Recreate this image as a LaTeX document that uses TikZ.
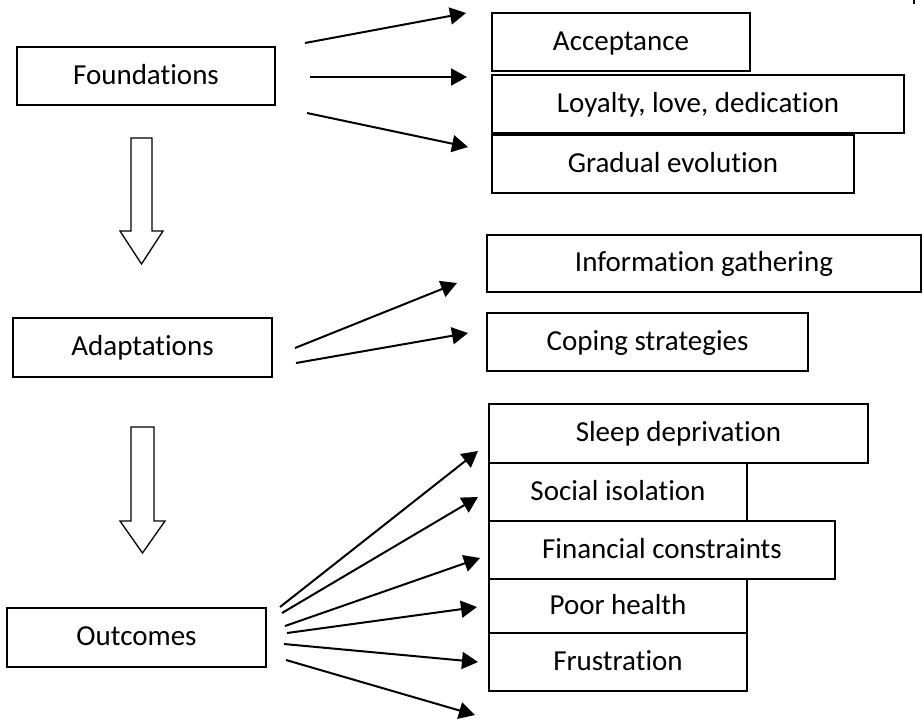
\documentclass[tikz,border=0pt]{standalone}
\usepackage{fontspec}
\setmainfont{Carlito}[Ligatures=NoCommon]
\usetikzlibrary{arrows.meta}
\tikzset{
  box/.style={draw=black, line width=0.8pt, inner sep=0pt, fill=none,
    font=\fontsize{14.5}{17}\selectfont, text height=0.8em, text depth=0pt},
  arr/.style={line width=1pt, -{Triangle[length=8pt,width=8.5pt]}},
  hollow/.style={draw=black, line width=0.65pt, fill=white, line join=miter}
}
\begin{document}
\begin{tikzpicture}[x=0.5pt, y=-0.5pt]
\useasboundingbox (0,0) rectangle (923,720);

% left column
\node[box, minimum width=129pt, minimum height=29pt] (found) at (146,76) {Foundations};
\node[box, minimum width=129.5pt, minimum height=29.5pt] (adapt) at (142.5,347.5) {Adaptations};
\node[box, minimum width=129.5pt, minimum height=29.5pt] (outc) at (136.5,637.5) {Outcomes};

% foundations targets
\node[box, minimum width=129pt, minimum height=29pt] (accept) at (621,42) {Acceptance};
\node[box, minimum width=206pt, minimum height=29pt] (loyal) at (698,104) {Loyalty, love, dedication};
\node[box, minimum width=181pt, minimum height=29pt] (grad) at (673,164) {Gradual evolution};

% adaptations targets
\node[box, minimum width=217pt, minimum height=28.5pt] (info) at (704,263.5) {Information gathering};
\node[box, minimum width=160.5pt, minimum height=29pt] (coping) at (647.5,342) {Coping strategies};

% outcomes targets
\node[box, minimum width=189.5pt, minimum height=29.5pt] (sleep) at (678.5,433.5) {Sleep deprivation};
\node[box, minimum width=129pt, minimum height=29pt] (social) at (618,492) {Social isolation};
\node[box, minimum width=173pt, minimum height=29pt] (fin) at (662,550) {Financial constraints};
\node[box, minimum width=129pt, minimum height=27pt] (poor) at (618,606) {Poor health};
\node[box, minimum width=129pt, minimum height=29pt] (frus) at (618,662) {Frustration};

% hollow block arrows
\draw[hollow] (131,138) -- (152,138) -- (152,231) -- (163,231) -- (141.5,264)
  -- (120,231) -- (131,231) -- cycle;
\draw[hollow] (131,427) -- (154,427) -- (154,521) -- (165,521) -- (142.5,553)
  -- (120,521) -- (131,521) -- cycle;

% connector end points
\coordinate (fs1) at (305,43);  \coordinate (ft1) at (466,13);
\coordinate (fs2) at (310,77);  \coordinate (ft2) at (467,77);
\coordinate (fs3) at (307,113); \coordinate (ft3) at (468,147);
\coordinate (as1) at (295,348); \coordinate (at1) at (457,283);
\coordinate (as2) at (296,363); \coordinate (at2) at (468,333);
\coordinate (os1) at (280,607); \coordinate (ot1) at (478,451);
\coordinate (os2) at (282,613); \coordinate (ot2) at (478,497);
\coordinate (os3) at (285,626); \coordinate (ot3) at (480,558);
\coordinate (os4) at (287,633); \coordinate (ot4) at (477,607);
\coordinate (os5) at (284,644); \coordinate (ot5) at (478,662);
\coordinate (os6) at (286,660); \coordinate (ot6) at (475,715);

\draw[arr] (fs1) -- (ft1);
\draw[arr] (fs2) -- (ft2);
\draw[arr] (fs3) -- (ft3);
\draw[arr] (as1) -- (at1);
\draw[arr] (as2) -- (at2);
\draw[arr] (os1) -- (ot1);
\draw[arr] (os2) -- (ot2);
\draw[arr] (os3) -- (ot3);
\draw[arr] (os4) -- (ot4);
\draw[arr] (os5) -- (ot5);
\draw[arr] (os6) -- (ot6);

% small mark at top right
\coordinate (mk1) at (913.5,0); \coordinate (mk2) at (913.5,3.5);
\draw[line width=1pt] (mk1) -- (mk2);
\end{tikzpicture}
\end{document}
